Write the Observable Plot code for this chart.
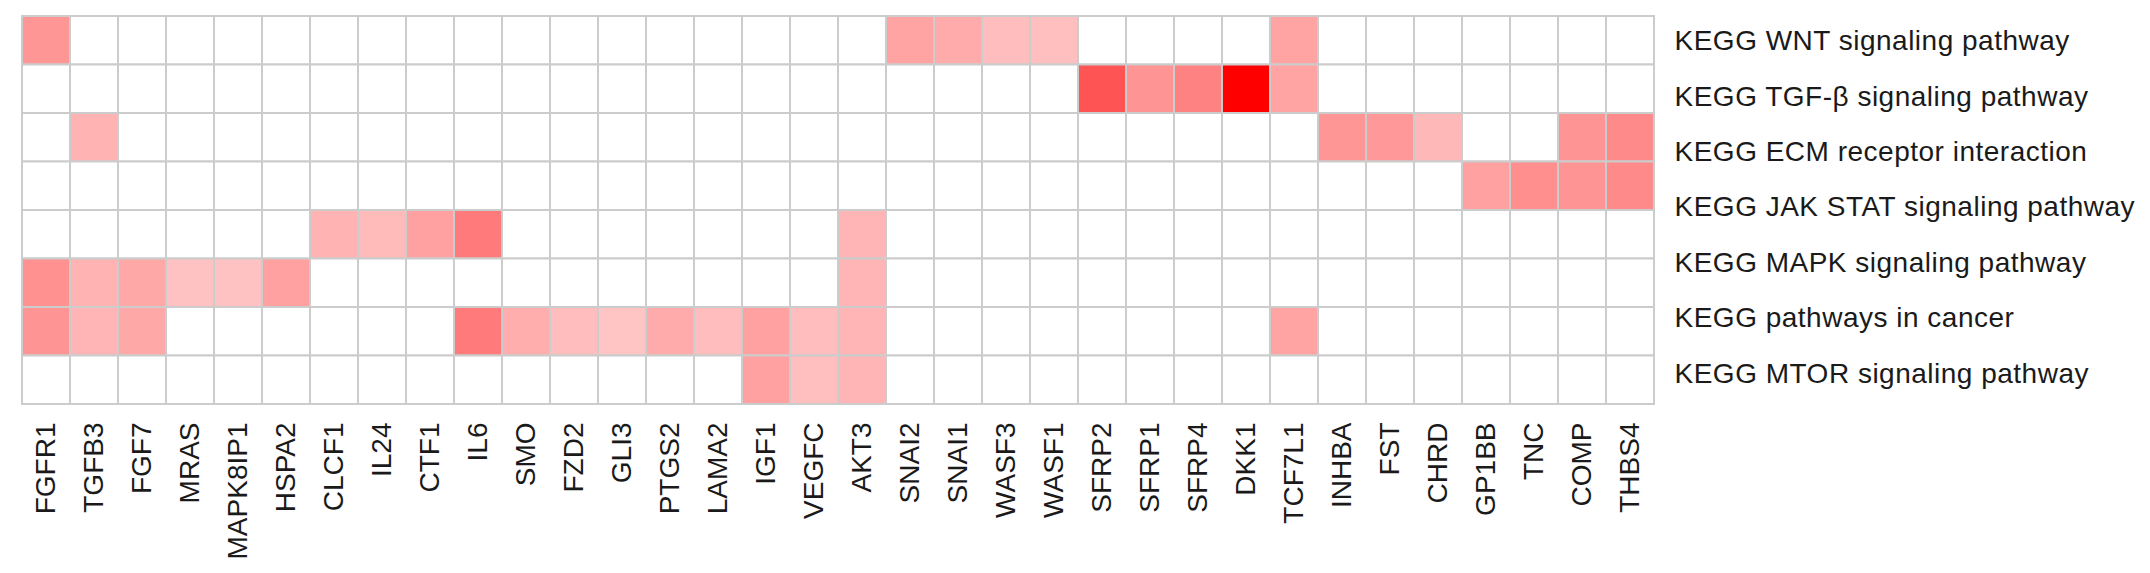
<!DOCTYPE html>
<html>
<head>
<meta charset="utf-8">
<script src="https://cdn.jsdelivr.net/npm/d3@7"></script>
<script src="https://cdn.jsdelivr.net/npm/@observablehq/plot@0.6"></script>
<style>
  html, body { margin: 0; padding: 0; background: #fff; }
</style>
</head>
<body>
<div id="chart"></div>
<script>
const genes = ["FGFR1","TGFB3","FGF7","MRAS","MAPK8IP1","HSPA2","CLCF1","IL24","CTF1","IL6",
  "SMO","FZD2","GLI3","PTGS2","LAMA2","IGF1","VEGFC","AKT3","SNAI2","SNAI1","WASF3","WASF1",
  "SFRP2","SFRP1","SFRP4","DKK1","TCF7L1","INHBA","FST","CHRD","GP1BB","TNC","COMP","THBS4"];

const pathwayLabels = [
  "KEGG WNT signaling pathway",
  "KEGG TGF-\u03B2 signaling pathway",
  "KEGG ECM receptor interaction",
  "KEGG JAK STAT signaling pathway",
  "KEGG MAPK signaling pathway",
  "KEGG pathways in cancer",
  "KEGG MTOR signaling pathway"
];

// intensity (0 = white, 1 = pure red), one array per grid row, in gene order
const row1 = [0.41,0,0,0,0,0,0,0,0,0, 0,0,0,0,0,0,0,0,0.36,0.33,0.26,0.25, 0,0,0,0,0.36,0,0,0,0,0,0,0];
const row2 = [0,0,0,0,0,0,0,0,0,0, 0,0,0,0,0,0,0,0,0,0,0,0, 0.67,0.42,0.49,1.0,0.36,0,0,0,0,0,0,0];
const row3 = [0,0.30,0,0,0,0,0,0,0,0, 0,0,0,0,0,0,0,0,0,0,0,0, 0,0,0,0,0,0.41,0.40,0.28,0,0,0.42,0.46];
const row4 = [0,0,0,0,0,0,0,0,0,0, 0,0,0,0,0,0,0,0,0,0,0,0, 0,0,0,0,0,0,0,0,0.37,0.44,0.42,0.46];
const row5 = [0,0,0,0,0,0,0.30,0.27,0.37,0.52, 0,0,0,0,0,0,0,0.29,0,0,0,0, 0,0,0,0,0,0,0,0,0,0,0,0];
const row6 = [0.43,0.30,0.34,0.24,0.24,0.37,0,0,0,0, 0,0,0,0,0,0,0,0.29,0,0,0,0, 0,0,0,0,0,0,0,0,0,0,0,0];
const row7 = [0.42,0.29,0.34,0,0,0,0,0,0,0.52, 0.32,0.26,0.23,0.33,0.26,0.37,0.26,0.29,0,0,0,0, 0,0,0,0,0.36,0,0,0,0,0,0,0];
const row8 = [0,0,0,0,0,0,0,0,0,0, 0,0,0,0,0,0.37,0.25,0.29,0,0,0,0, 0,0,0,0,0,0,0,0,0,0,0,0];

const rows = [row1,row2,row3,row4,row5,row6,row7,row8];
const nRows = rows.length;

const cells = [];
rows.forEach((vals, r) => {
  vals.forEach((v, c) => cells.push({gene: genes[c], r0: r, r1: r + 1, value: v}));
});

const labelData = pathwayLabels.map((name, i) => ({name, y: (i + 0.5) * nRows / pathwayLabels.length}));

const chart = Plot.plot({
  width: 2150,
  height: 573,
  marginLeft: 16,
  marginTop: 16,
  marginRight: 491,
  marginBottom: 169,
  style: {fontFamily: "'Liberation Sans', Arial, Helvetica, sans-serif", background: "#fff", color: "#1a1a1a"},
  x: {domain: genes, padding: 0, label: null},
  y: {domain: [0, nRows], reverse: true, axis: null},
  color: {type: "linear", domain: [0, 1], range: ["#ffffff", "#ff0000"], interpolate: "rgb"},
  marks: [
    Plot.barY(cells, {x: "gene", y1: "r0", y2: "r1", fill: "value", stroke: "#cccccc", strokeWidth: 2}),
    Plot.axisX({anchor: "bottom", tickRotate: -90, tickSize: 0, tickPadding: 18, fontSize: 28, label: null, fill: "#1a1a1a"}),
    Plot.text(labelData, {y: "y", text: "name", frameAnchor: "right", textAnchor: "start", dx: 15, dy: -3,
      fontSize: 28, fill: "#1a1a1a"})
  ]
});
d3.select(chart).selectAll("g[aria-label='text'] text").style("letter-spacing", "0.5px");
document.getElementById("chart").appendChild(chart);
</script>
</body>
</html>
